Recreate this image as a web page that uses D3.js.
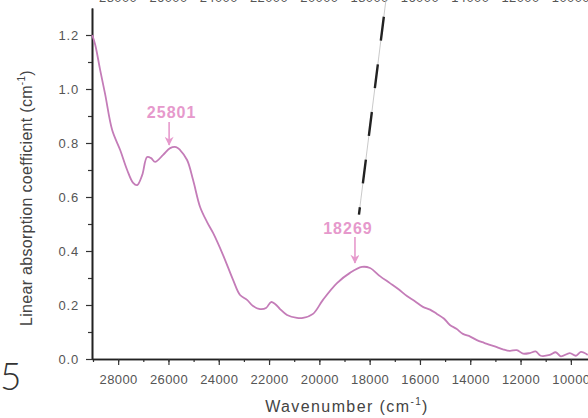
<!DOCTYPE html>
<html>
<head>
<meta charset="utf-8">
<script src="https://cdn.jsdelivr.net/npm/d3@7"></script>
<style>
  body { margin: 0; background: #fff; }
  svg { display: block; }
  text { font-family: "Liberation Sans", Arial, sans-serif; }
</style>
</head>
<body>
<svg width="588" height="418"></svg>
<script>
// ### Data ###
var wavenumber = [29030, 28910, 28715, 28516, 28238, 27920, 27642, 27404, 27245, 27046,
  26848, 26689, 26530, 26212, 25934, 25696, 25537, 25259, 25020, 24742,
  24464, 24226, 23828, 23431, 23153, 22875, 22636, 22358, 22120, 21921,
  21762, 21564, 21286, 20889, 20650, 20253, 19856, 19299, 18783, 18306,
  17988, 17591, 17194, 16850, 16518, 16200, 15882, 15600, 15326, 15050,
  14810, 14550, 14293, 14000, 13737, 13450, 12942, 12700, 12426, 12150,
  11900, 11631, 11400, 11200, 10837, 10600, 10400, 10042, 9800, 9600, 9327]
var absorption = [1.20, 1.163, 1.07, 0.98, 0.848, 0.774, 0.70, 0.652, 0.644, 0.681,
  0.748, 0.744, 0.73, 0.756, 0.781, 0.785, 0.774, 0.737, 0.663, 0.563,
  0.507, 0.467, 0.385, 0.293, 0.237, 0.219, 0.196, 0.185, 0.189, 0.211,
  0.204, 0.185, 0.163, 0.152, 0.152, 0.167, 0.219, 0.281, 0.319, 0.341,
  0.337, 0.307, 0.281, 0.258, 0.233, 0.214, 0.193, 0.183, 0.167, 0.150,
  0.126, 0.112, 0.093, 0.083, 0.07, 0.060, 0.044, 0.036, 0.03, 0.033,
  0.020, 0.022, 0.028, 0.012, 0.015, 0.025, 0.010, 0.022, 0.012, 0.026, 0.015]

var xTicks = [28000, 26000, 24000, 22000, 20000, 18000, 16000, 14000, 12000, 10000]
var yTicks = [0.0, 0.2, 0.4, 0.6, 0.8, 1.0, 1.2]

var peakLabels = ['25801', '18269']
var labelX = [25874, 18862]
var labelY = [0.893, 0.463]
var arrowX = [25974, 18584]      // where the arrows sit on the picture
var arrowTop = [0.878, 0.452]
var arrowBottom = [0.793, 0.356]

// dashed guide line from the panel above
var guideX = [17352, 18425]
var guideY = [1.33, 0.535]

var svg = d3.select('svg')
var pink = '#c47cb8'
var labelPink = '#e699cc'
var grey = '#555'

// ### Scales ###
var xScale = d3.scaleLinear().domain([29040, 9000]).range([92, 596])
var yScale = d3.scaleLinear().domain([0, 1.3]).range([359, 8])

// ### Axes ###
var xAxis = d3.axisBottom(xScale).tickValues(xTicks).tickFormat(d3.format('d')).tickSize(6).tickSizeOuter(0)
var xMinor = d3.axisBottom(xScale).tickValues(d3.range(29000, 9000, -1000)).tickFormat('').tickSize(3).tickSizeOuter(0)
var yAxis = d3.axisLeft(yScale).tickValues(yTicks).tickFormat(d3.format('.1f')).tickSize(6).tickSizeOuter(0)
var yMinor = d3.axisLeft(yScale).tickValues(d3.range(0.1, 1.3, 0.2)).tickFormat('').tickSize(4).tickSizeOuter(0)

function styleAxis(g) {
  g.select('.domain').attr('stroke', '#222').attr('stroke-width', 1.6)
  g.selectAll('.tick line').attr('stroke', '#333').attr('stroke-width', 1.2)
  g.selectAll('.tick text').attr('fill', grey).style('font-size', '13px')
}

svg.append('g').attr('transform', 'translate(0,359)').call(xMinor).call(styleAxis)
svg.append('g').attr('transform', 'translate(0,359)').call(xAxis).call(styleAxis)
  .selectAll('.tick text').attr('y', 25).attr('dy', 0).style('letter-spacing', '0.4px')
svg.append('g').attr('transform', 'translate(92,0)').call(yMinor).call(styleAxis)
svg.append('g').attr('transform', 'translate(92,0)').call(yAxis).call(styleAxis)
  .selectAll('.tick text').attr('x', -13).style('letter-spacing', '0.8px')

// tick labels of the panel above, cut by the top edge
svg.append('g').selectAll('text')
  .data(xTicks)
  .enter()
  .append('text')
  .attr('x', d => xScale(d))
  .attr('y', 2)
  .attr('text-anchor', 'middle')
  .attr('fill', grey)
  .style('font-size', '13px')
  .style('letter-spacing', '0.4px')
  .text(d => d)

// ### Axis titles ###
var yTitle = svg.append('text')
  .attr('transform', 'translate(32,198) rotate(-90)')
  .attr('text-anchor', 'middle')
  .attr('fill', '#444')
  .style('font-size', '16px')
  .style('letter-spacing', '0.3px')
yTitle.append('tspan').text('Linear absorption coefficient (cm')
yTitle.append('tspan').attr('dy', -7).style('font-size', '10px').text('-1')
yTitle.append('tspan').attr('dy', 7).text(')')

var xTitle = svg.append('text')
  .attr('x', 347).attr('y', 412)
  .attr('text-anchor', 'middle')
  .attr('fill', '#444')
  .style('font-size', '16px')
  .style('letter-spacing', '1.4px')
xTitle.append('tspan').text('Wavenumber (cm')
xTitle.append('tspan').attr('dy', -7).style('font-size', '10px').text('-1')
xTitle.append('tspan').attr('dy', 7).text(')')

// panel number
svg.append('text')
  .attr('x', 0).attr('y', 390)
  .attr('fill', '#333')
  .style('font-family', 'Lato, sans-serif')
  .style('font-weight', 300)
  .style('font-size', '37px')
  .text('5')

// ### Spectrum ###
var line = d3.line()
  .x((d, i) => xScale(wavenumber[i]))
  .y((d, i) => yScale(absorption[i]))
  .curve(d3.curveCatmullRom)

svg.append('path')
  .datum(absorption)
  .attr('d', line)
  .attr('fill', 'none')
  .attr('stroke', pink)
  .attr('stroke-width', 1.8)

// ### Guide line ###
var guide = d3.line()
  .x((d, i) => xScale(guideX[i]))
  .y((d, i) => yScale(guideY[i]))
svg.append('path').datum(guideX).attr('d', guide)
  .attr('stroke', '#bbb').attr('stroke-width', 0.8).attr('fill', 'none')
svg.append('path').datum(guideX).attr('d', guide)
  .attr('stroke', '#222').attr('stroke-width', 2.4).attr('fill', 'none')
  .attr('stroke-dasharray', '24 24').attr('stroke-dashoffset', -17)

// ### Peak annotations ###
var defs = svg.append('defs')
defs.append('marker')
  .attr('id', 'head')
  .attr('viewBox', '0 0 10 10')
  .attr('refX', 9).attr('refY', 5)
  .attr('markerWidth', 10).attr('markerHeight', 9)
  .attr('markerUnits', 'userSpaceOnUse')
  .attr('orient', 'auto')
  .append('path').attr('d', 'M0,0 L10,5 L0,10 L3,5 Z').attr('fill', labelPink)

peakLabels.forEach(function(lbl, i) {
  svg.append('text')
    .attr('x', xScale(labelX[i]))
    .attr('y', yScale(labelY[i]))
    .attr('text-anchor', 'middle')
    .attr('fill', labelPink)
    .style('font-size', '16px')
    .style('font-weight', 'bold')
    .style('letter-spacing', '1px')
    .text(lbl)
  svg.append('line')
    .attr('x1', xScale(arrowX[i])).attr('x2', xScale(arrowX[i]))
    .attr('y1', yScale(arrowTop[i])).attr('y2', yScale(arrowBottom[i]))
    .attr('stroke', labelPink).attr('stroke-width', 1.6)
    .attr('marker-end', 'url(#head)')
})
</script>
</body>
</html>
